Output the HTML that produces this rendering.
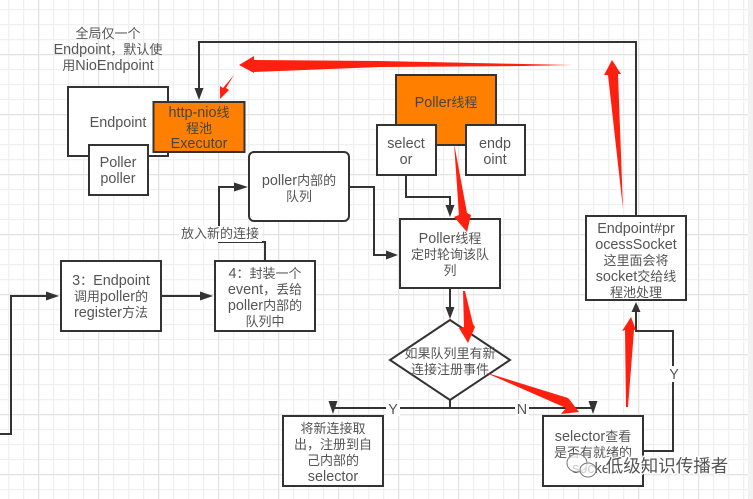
<!DOCTYPE html>
<html><head><meta charset="utf-8">
<style>
html,body{margin:0;padding:0;background:#fff}
svg{display:block}
text{font-family:"Liberation Sans","Noto Sans CJK SC",sans-serif;font-size:14.4px;fill:#555;text-anchor:middle}
tspan{font-size:13px}
.wm{filter:none}
</style></head>
<body>
<svg width="753" height="499" viewBox="0 0 753 499" xmlns="http://www.w3.org/2000/svg" style="filter:blur(.3px)">
<defs>
<pattern id="g1" width="15" height="15" x="8" y="9" patternUnits="userSpaceOnUse"><path d="M.5 0V15M0 .5H15" fill="none" stroke="#f0f0f0" stroke-width="1.500"/></pattern>
<pattern id="g2" width="60" height="60" x="38" y="54" patternUnits="userSpaceOnUse"><path d="M.5 0V60M0 .5H60" fill="none" stroke="#e4e4e4" stroke-width="1.500"/></pattern>
</defs>
<rect width="753" height="499" fill="#fff"/>
<rect width="748" height="499" fill="url(#g1)"/>
<rect width="748" height="499" fill="url(#g2)"/>
<rect x="748" width="5" height="499" fill="#f2f2f2"/>

<g fill="none" stroke="#333" stroke-width="2">
<path d="M636 216V42H199V90"/>
<path d="M406 175V197H450V208"/>
<path d="M349 187H374V255H390"/>
<path d="M265 261V242H219V187H238"/>
<path d="M161 296H203"/>
<path d="M0 434H11V296H50"/>
<path d="M450 288V308"/>
<path d="M450 400V408"/>
<path d="M333 408H593"/>
<path d="M643 451H673V331H636V310"/>
</g>
<g fill="#333">
<path d="M199 100L194.500 88H203.500Z"/>
<path d="M450 217L445.500 205H454.500Z"/>
<path d="M398 255L386 250.500V259.500Z"/>
<path d="M248 187L234 182.500V191.500Z"/>
<path d="M213 296L200 291.500V300.500Z"/>
<path d="M59 296L46 291.500V300.500Z"/>
<path d="M450 319L445.500 307H454.500Z"/>
<path d="M333 414L328.500 401H337.500Z"/>
<path d="M593 414L588.500 401H597.500Z"/>
<path d="M636 302L631.500 312H640.500Z"/>
</g>

<g stroke="#333" stroke-width="2">
<rect x="68" y="87" width="100" height="69" fill="#fff"/>
<rect x="89" y="145" width="59" height="50" fill="#fff"/>
<rect x="153.500" y="102" width="91" height="50" fill="#ff8000"/>
<rect x="249" y="152" width="100" height="69" rx="5" fill="#fff"/>
<rect x="396" y="75" width="100" height="70" fill="#ff8000"/>
<rect x="377" y="125" width="59" height="50" fill="#fff"/>
<rect x="466" y="125" width="59" height="50" fill="#fff"/>
<rect x="400" y="219" width="100" height="69" fill="#fff"/>
<rect x="586" y="216" width="100" height="84" fill="#fff"/>
<path d="M450 320L510 360L450 400L390 360Z" fill="#fff"/>
<rect x="61" y="261" width="100" height="70" fill="#fff"/>
<rect x="215" y="261" width="100" height="70" fill="#fff"/>
<rect x="283" y="416" width="100" height="70" fill="#fff"/>
<rect x="543" y="416" width="100" height="70" fill="#fff"/>
</g>

<text x="108" y="38"><tspan>全局仅一个</tspan></text>
<text x="108" y="54">Endpoint<tspan>，默认使</tspan></text>
<text x="108" y="70"><tspan>用</tspan>NioEndpoint</text>
<text x="118" y="127">Endpoint</text>
<text x="118" y="167">Poller</text>
<text x="118" y="183">poller</text>
<text x="199" y="117" style="fill:#444">http-nio<tspan>线</tspan></text>
<text x="199" y="133" style="fill:#444"><tspan>程池</tspan></text>
<text x="199" y="148" style="fill:#444">Executor</text>
<text x="299" y="185">poller<tspan>内部的</tspan></text>
<text x="299" y="201"><tspan>队列</tspan></text>
<rect x="179" y="226" width="83" height="16" fill="#fff"/>
<text x="220" y="238"><tspan>放入新的连接</tspan></text>
<text x="446" y="107" style="fill:#444">Poller<tspan>线程</tspan></text>
<text x="406" y="148">select</text>
<text x="406" y="164">or</text>
<text x="495" y="148">endp</text>
<text x="495" y="164">oint</text>
<text x="450" y="243">Poller<tspan>线程</tspan></text>
<text x="450" y="259"><tspan>定时轮询该队</tspan></text>
<text x="450" y="275"><tspan>列</tspan></text>
<text x="636" y="233">Endpoint#pr</text>
<text x="636" y="249">ocessSocket</text>
<text x="636" y="265"><tspan>这里面会将</tspan></text>
<text x="636" y="281">socket<tspan>交给线</tspan></text>
<text x="636" y="297"><tspan>程池处理</tspan></text>
<text x="450" y="358"><tspan>如果队列里有新</tspan></text>
<text x="450" y="374"><tspan>连接注册事件</tspan></text>
<text x="111" y="285">3<tspan>：</tspan>Endpoint</text>
<text x="111" y="301"><tspan>调用</tspan>poller<tspan>的</tspan></text>
<text x="111" y="317">register<tspan>方法</tspan></text>
<text x="265" y="278">4<tspan>：封装一个</tspan></text>
<text x="265" y="294">event<tspan>，丢给</tspan></text>
<text x="265" y="310">poller<tspan>内部的</tspan></text>
<text x="265" y="326"><tspan>队列中</tspan></text>
<text x="333" y="433"><tspan>将新连接取</tspan></text>
<text x="333" y="449"><tspan>出，注册到自</tspan></text>
<text x="333" y="465"><tspan>己内部的</tspan></text>
<text x="333" y="481">selector</text>
<text x="593" y="441">selector<tspan>查看</tspan></text>
<text x="593" y="457"><tspan>是否有就绪的</tspan></text>
<text x="593" y="473">socket</text>

<rect x="386" y="400" width="14" height="16" fill="#fff"/>
<text x="393" y="414">Y</text>
<rect x="515" y="400" width="14" height="16" fill="#fff"/>
<text x="522" y="414">N</text>
<rect x="667" y="366" width="14" height="16" fill="#fff"/>
<text x="674" y="379">Y</text>

<g fill="#ff2010">
<path d="M239 65L254 56L254 60L380 61L523 64L572 65L523 66L380 67L254 72L254 73Z"/>
<path d="M234 75L226 88L229 90L220 99L220 86L223 88Z"/>
<path d="M454 143L467 213L471 215L467 232L454 217L459 215Z"/>
<path d="M612 60L621 74L618 74L623 209L608 75L604 75Z"/>
<path d="M463 291L465 291L473 324L475 327L468 343L459 328L464 327Z"/>
<path d="M484 372L568 398L569 399L579 412L561 414L566 408Z"/>
<path d="M631 317L636 330L634 330L628 407L626 407L625 330L622 331Z"/>
</g>

<g fill="#fff" fill-opacity=".7" stroke="#777" stroke-width="1">
<ellipse cx="577" cy="463" rx="10" ry="9"/>
<ellipse cx="588" cy="470" rx="8" ry="7"/>
</g>
<text x="667" y="472" style="font-size:17.500px;fill:#555;stroke:#fff;stroke-width:2.500px;paint-order:stroke">低级知识传播者</text>
</svg>
</body></html>
